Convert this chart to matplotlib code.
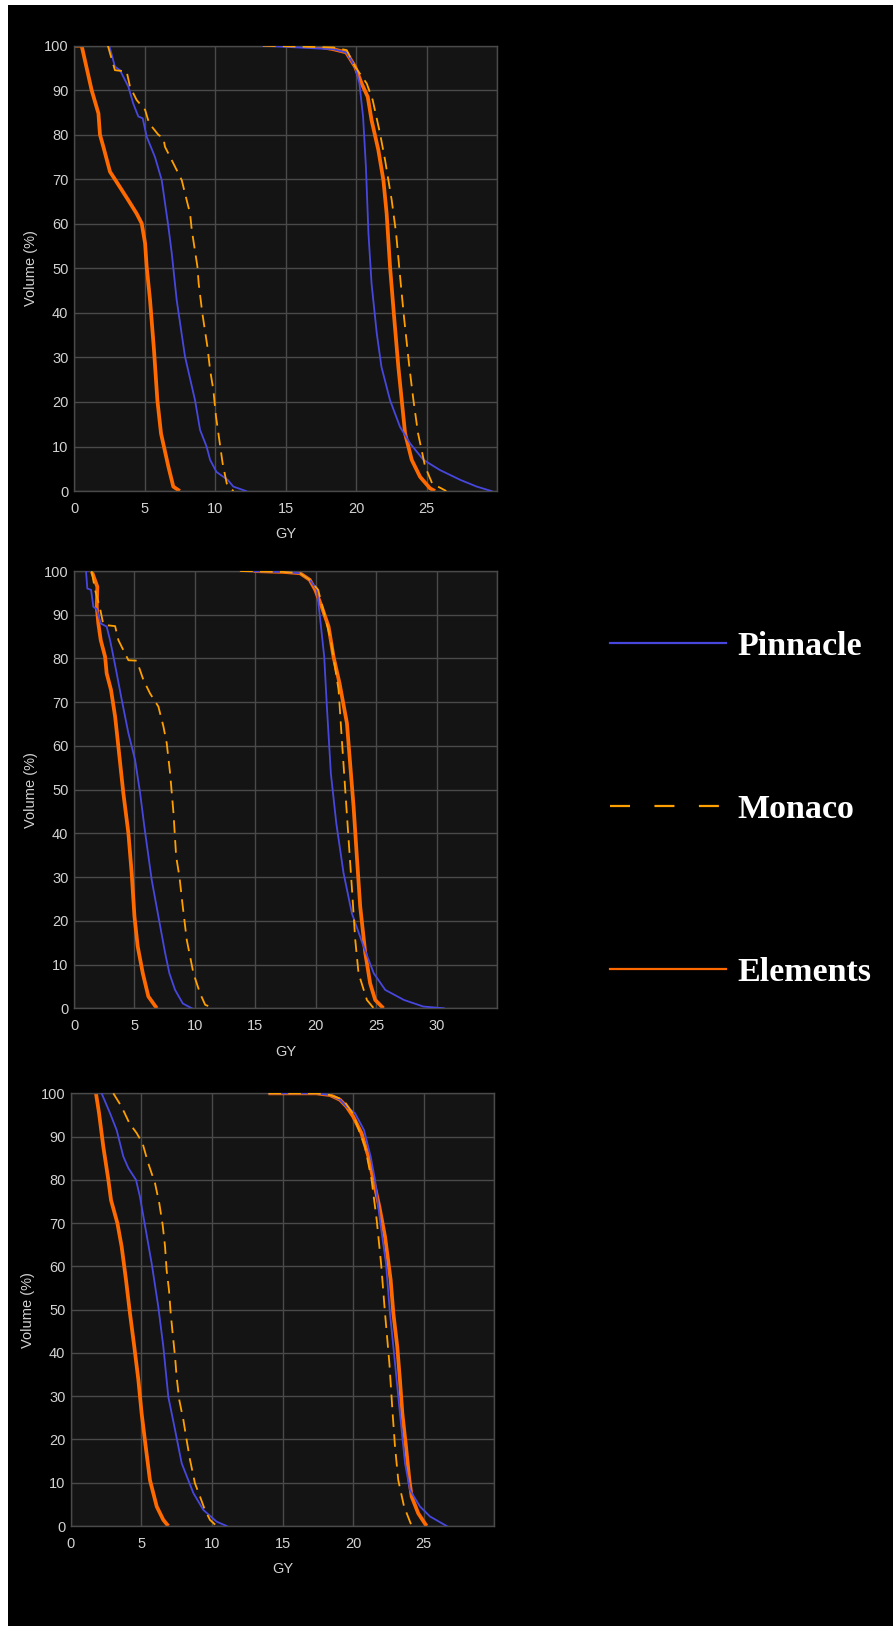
import matplotlib.pyplot as plt
from matplotlib.lines import Line2D
from matplotlib.patches import Rectangle

plt.rcParams['font.family'] = ['Liberation Sans', 'DejaVu Sans']

# --- panel 1 (dose Gy, volume %) ---
p1_pin_low_x = [2.5, 2.9, 3.26, 3.85, 4.2, 4.56, 4.87, 5.15, 5.74, 6.22, 6.69, 6.93, 7.28, 7.87, 8.58, 8.94, 9.4, 9.65, 10.1, 10.9, 11.3, 12.2]
p1_pin_low_y = [100, 95.3, 94.5, 90.8, 87, 84.1, 83.7, 79.6, 75, 69.8, 59.4, 53.4, 42.9, 30.2, 20.4, 13.7, 10, 7, 4.3, 2.5, 1, 0]
p1_mon_low_x = [2.4, 2.55, 2.9, 3.73, 3.97, 4.44, 5.04, 5.32, 5.98, 6.34, 6.45, 7.04, 7.64, 7.99, 8.23, 8.35, 8.75, 8.84, 9.1, 9.46, 9.65, 9.88, 10.07, 10.24, 10.54, 10.83, 11.3]
p1_mon_low_y = [100, 98.3, 94.5, 94.2, 90.8, 87.8, 85.6, 82.6, 80, 79.2, 77.3, 73.6, 69.8, 65.3, 62.3, 58.6, 50.4, 46.6, 39.9, 32.4, 27.2, 22.7, 16.7, 12.9, 6.2, 1.7, 0]
p1_ele_low_x = [0, 0.54, 1.25, 1.73, 1.84, 2.08, 2.55, 2.9, 3.85, 4.44, 4.8, 5.04, 5.15, 5.39, 5.67, 5.91, 6.17, 6.69, 7.04, 7.5]
p1_ele_low_y = [100, 100, 90, 84.8, 80, 77.3, 71.7, 70, 65.3, 62.3, 60.1, 55.6, 50.4, 42.9, 31.7, 20.4, 12.9, 5.5, 1, 0]
p1_pin_high_x = [13.4, 18.4, 19.3, 19.93, 20.24, 20.5, 20.7, 20.88, 21.1, 21.47, 21.8, 22.41, 23.12, 23.83, 24.78, 25.96, 27.4, 28.56, 29.6]
p1_pin_high_y = [100, 99.2, 98.5, 95.3, 91.5, 84, 72.8, 57.9, 46.6, 35.4, 27.9, 20.4, 14.4, 10.7, 7, 4.7, 2.5, 1, 0]
p1_mon_high_x = [13.4, 18.4, 19.34, 19.93, 20.76, 21.18, 21.7, 22.06, 22.53, 22.84, 23.17, 23.4, 23.78, 24.07, 24.4, 24.9, 25.4, 26.4]
p1_mon_high_y = [100, 99.6, 99, 95.3, 91.5, 87.8, 80.3, 74.3, 65.3, 57.9, 46.6, 39.1, 27.9, 20.4, 12.9, 5.5, 1.7, 0]
p1_ele_high_x = [15.1, 17.0, 18.4, 19.3, 19.93, 20.4, 20.83, 21.1, 21.58, 21.94, 22.17, 22.41, 22.7, 23.0, 23.24, 23.48, 23.95, 24.54, 25.25, 25.6]
p1_ele_high_y = [100, 100, 99.2, 98.5, 95.3, 91.5, 88.5, 83.3, 76.6, 69.8, 62.3, 50.4, 39.1, 27.9, 20.4, 12.9, 7, 3.2, 0.6, 0]

# --- panel 2 ---
p2_pin_low_x = [0.99, 1.1, 1.41, 1.6, 1.88, 2.21, 2.7, 2.98, 3.26, 3.53, 3.95, 4.5, 5.05, 5.47, 5.82, 6.43, 6.98, 7.54, 7.89, 8.36, 9.0, 9.74]
p2_pin_low_y = [100, 96, 95.7, 91.8, 91.3, 88, 87.3, 84.2, 80.4, 76.6, 70.5, 62.9, 56.8, 49.2, 41.5, 29.3, 21, 12.6, 8, 4.2, 1.1, 0]
p2_mon_low_x = [1.46, 1.74, 2.15, 2.43, 3.4, 3.67, 4.5, 5.19, 5.74, 6.29, 6.98, 7.4, 7.67, 7.95, 8.23, 8.45, 8.72, 9.0, 9.33, 9.88, 10.43, 10.85, 11.54]
p2_mon_low_y = [100, 95.7, 91.5, 87.7, 87.4, 84.2, 79.6, 79.5, 75.1, 72, 69, 64.4, 60.6, 53.7, 44.6, 34.7, 30.1, 23.2, 15.6, 8, 3.4, 0.8, 0]
p2_ele_low_x = [1.46, 1.93, 1.88, 2.01, 2.21, 2.57, 2.7, 3.06, 3.4, 3.67, 4.08, 4.5, 4.77, 5.0, 5.27, 5.69, 6.15, 6.85]
p2_ele_low_y = [100, 96.4, 91.8, 88, 84.2, 80.4, 76.6, 72.8, 66.7, 59.8, 49.2, 40, 30.9, 21, 14.1, 8, 2.7, 0]
p2_pin_high_x = [13.75, 17.3, 18.7, 19.5, 20.1, 20.3, 20.7, 20.92, 21.25, 21.7, 22.3, 22.99, 23.96, 24.8, 25.75, 27.3, 28.9, 30.6]
p2_pin_high_y = [100, 99.8, 99.5, 98, 95.7, 90.7, 80.4, 69, 53.7, 42.3, 30.9, 21.7, 14.1, 8, 4.2, 1.9, 0.4, 0]
p2_mon_high_x = [13.75, 17.3, 18.7, 19.5, 20.2, 21.25, 21.89, 22.16, 22.44, 22.72, 23.0, 23.27, 23.54, 24.23, 24.8]
p2_mon_high_y = [100, 99.8, 99.5, 98, 95.7, 84.2, 72.8, 61.4, 49.9, 38.5, 27.1, 15.6, 8, 1.9, 0]
p2_ele_high_x = [14.85, 17.3, 18.7, 19.5, 19.96, 20.5, 21.06, 21.47, 21.97, 22.58, 22.8, 23.13, 23.4, 23.68, 24.1, 24.5, 24.92, 25.6]
p2_ele_high_y = [100, 99.8, 99.5, 98, 95.7, 91.8, 87.3, 80.4, 74.3, 65.2, 57.5, 46.1, 34.7, 23.2, 12.6, 5.7, 1.9, 0]

# --- panel 3 ---
p3_pin_low_x = [2.17, 2.77, 3.24, 3.71, 4.07, 4.61, 4.89, 5.18, 5.72, 6.19, 6.55, 6.9, 7.38, 7.85, 8.68, 9.39, 10.33, 11.04]
p3_pin_low_y = [100, 95.4, 91.5, 85.4, 82.7, 80, 76.1, 70.7, 60.7, 50.7, 41.4, 29.9, 22.2, 14.5, 7.6, 3.7, 1, 0]
p3_mon_low_x = [3.0, 3.59, 4.14, 4.66, 5.08, 5.48, 5.96, 6.26, 6.5, 6.67, 6.78, 6.95, 7.07, 7.21, 7.38, 7.49, 7.68, 7.97, 8.2, 8.44, 8.79, 9.15, 9.5, 9.86, 10.33]
p3_mon_low_y = [100, 96.9, 93.1, 90.8, 88.4, 83.8, 79.2, 74.6, 69.6, 64.6, 59.2, 54.5, 49.2, 44.5, 39.1, 34.5, 29.1, 24.5, 19.9, 15.3, 9.9, 6.8, 3.7, 1.4, 0]
p3_ele_low_x = [1.77, 1.99, 2.29, 2.65, 2.84, 3.29, 3.59, 3.9, 4.18, 4.49, 4.78, 5.01, 5.3, 5.6, 6.08, 6.55, 6.9]
p3_ele_low_y = [100, 95.4, 87.7, 80, 75.3, 70, 64.6, 56.9, 49.2, 41.4, 33.7, 26, 18.3, 10.6, 4.5, 1.4, 0]
p3_pin_high_x = [14.0, 17.4, 18.37, 19.08, 19.55, 20.14, 20.78, 21.25, 21.56, 21.91, 22.34, 22.62, 22.98, 23.33, 23.69, 24.04, 24.75, 25.46, 26.64]
p3_pin_high_y = [100, 100, 99.6, 98.5, 96.9, 95.4, 91.5, 85.4, 80, 70.7, 60.7, 49.2, 37.6, 26, 14.5, 8.3, 4.5, 2.2, 0]
p3_mon_high_x = [14.0, 17.4, 18.37, 19.31, 19.98, 20.85, 21.32, 21.68, 21.99, 22.27, 22.58, 22.81, 22.98, 23.21, 23.62, 24.16]
p3_mon_high_y = [100, 100, 99.6, 98.5, 95.4, 87.7, 80, 70.7, 60.7, 49.2, 37.6, 26, 18.3, 10.6, 4.5, 0]
p3_ele_high_x = [14.0, 17.4, 18.37, 19.08, 19.55, 20.02, 20.6, 21.09, 21.44, 21.87, 22.27, 22.67, 22.86, 23.14, 23.33, 23.5, 23.76, 24.0, 24.16, 24.63, 25.22]
p3_ele_high_y = [100, 100, 99.6, 98.5, 96.9, 94.6, 90.8, 85.4, 80, 73.8, 66.9, 56.9, 49.2, 41.4, 33.7, 26, 18.3, 10.6, 6.8, 2.9, 0]

x_limits = [30, 35, 30]
x_ticks = [[0, 5, 10, 15, 20, 25], [0, 5, 10, 15, 20, 25, 30], [0, 5, 10, 15, 20, 25]]
y_ticks = [0, 10, 20, 30, 40, 50, 60, 70, 80, 90, 100]
labels = ['Pinnacle', 'Monaco', 'Elements']

c_pin = '#4747dd'
c_mon = '#ffa000'
c_ele = '#ff6a00'

panels = [
    [(p1_pin_low_x, p1_pin_low_y), (p1_pin_high_x, p1_pin_high_y),
     (p1_mon_low_x, p1_mon_low_y), (p1_mon_high_x, p1_mon_high_y),
     (p1_ele_low_x, p1_ele_low_y), (p1_ele_high_x, p1_ele_high_y)],
    [(p2_pin_low_x, p2_pin_low_y), (p2_pin_high_x, p2_pin_high_y),
     (p2_mon_low_x, p2_mon_low_y), (p2_mon_high_x, p2_mon_high_y),
     (p2_ele_low_x, p2_ele_low_y), (p2_ele_high_x, p2_ele_high_y)],
    [(p3_pin_low_x, p3_pin_low_y), (p3_pin_high_x, p3_pin_high_y),
     (p3_mon_low_x, p3_mon_low_y), (p3_mon_high_x, p3_mon_high_y),
     (p3_ele_low_x, p3_ele_low_y), (p3_ele_high_x, p3_ele_high_y)],
]

fig = plt.figure(figsize=(8.93, 16.26), dpi=100, facecolor='white')
# black canvas, leaving the thin white strips at left/top of the screenshot
fig.patches.append(Rectangle((8 / 893, 0), 1, 1 - 5 / 1626, transform=fig.transFigure,
                             facecolor='black', edgecolor='none', zorder=-10))

# axes rectangles [left, bottom, width, height] in figure fraction
rects = [[0.0829, 0.6980, 0.4737, 0.2739],
         [0.0829, 0.3799, 0.4737, 0.2689],
         [0.0795, 0.0615, 0.4737, 0.2661]]

for i, rect in enumerate(rects):
    ax = fig.add_axes(rect)
    ax.set_facecolor('#141414')
    curves = panels[i]
    for (x, y) in curves[0:2]:
        ax.plot(x, y, color=c_pin, lw=1.3, zorder=3)
    for (x, y) in curves[2:4]:
        ax.plot(x, y, color=c_mon, lw=1.3, dashes=(7, 4), zorder=4)
    for (x, y) in curves[4:6]:
        ax.plot(x, y, color=c_ele, lw=2.7, zorder=2, solid_capstyle='butt')
    ax.set_xlim(0, x_limits[i])
    ax.set_ylim(0, 100)
    ax.set_xticks(x_ticks[i] + [x_limits[i]])
    ax.set_xticklabels([str(t) for t in x_ticks[i]] + [''])
    ax.set_yticks(y_ticks)
    ax.grid(True, color='#4a4a4a', lw=1.0)
    ax.set_axisbelow(True)
    for s in ax.spines.values():
        s.set_color('#4a4a4a')
        s.set_linewidth(1.0)
    ax.tick_params(length=0, colors='#d2d2d2', labelsize=10.5)
    ax.tick_params(axis='x', pad=8)
    ax.tick_params(axis='y', pad=4)
    ax.set_ylabel('Volume (%)', color='#d2d2d2', fontsize=10.5, labelpad=4)
    ax.set_xlabel('GY', color='#d2d2d2', fontsize=10.5, labelpad=8)

handles = [Line2D([], [], color=c_pin, lw=1.6),
           Line2D([], [], color=c_mon, lw=1.6, dashes=(9, 11)),
           Line2D([], [], color=c_ele, lw=1.6)]
leg = fig.legend(handles, labels, loc='upper left', bbox_to_anchor=(0.649, 0.631),
                 frameon=False, handlelength=3.4, handletextpad=0.35, labelspacing=3.88,
                 prop={'family': 'Liberation Serif', 'weight': 'bold', 'size': 24.5})
for t in leg.get_texts():
    t.set_color('white')

fig.savefig('out.png', dpi=100, facecolor=fig.get_facecolor())
